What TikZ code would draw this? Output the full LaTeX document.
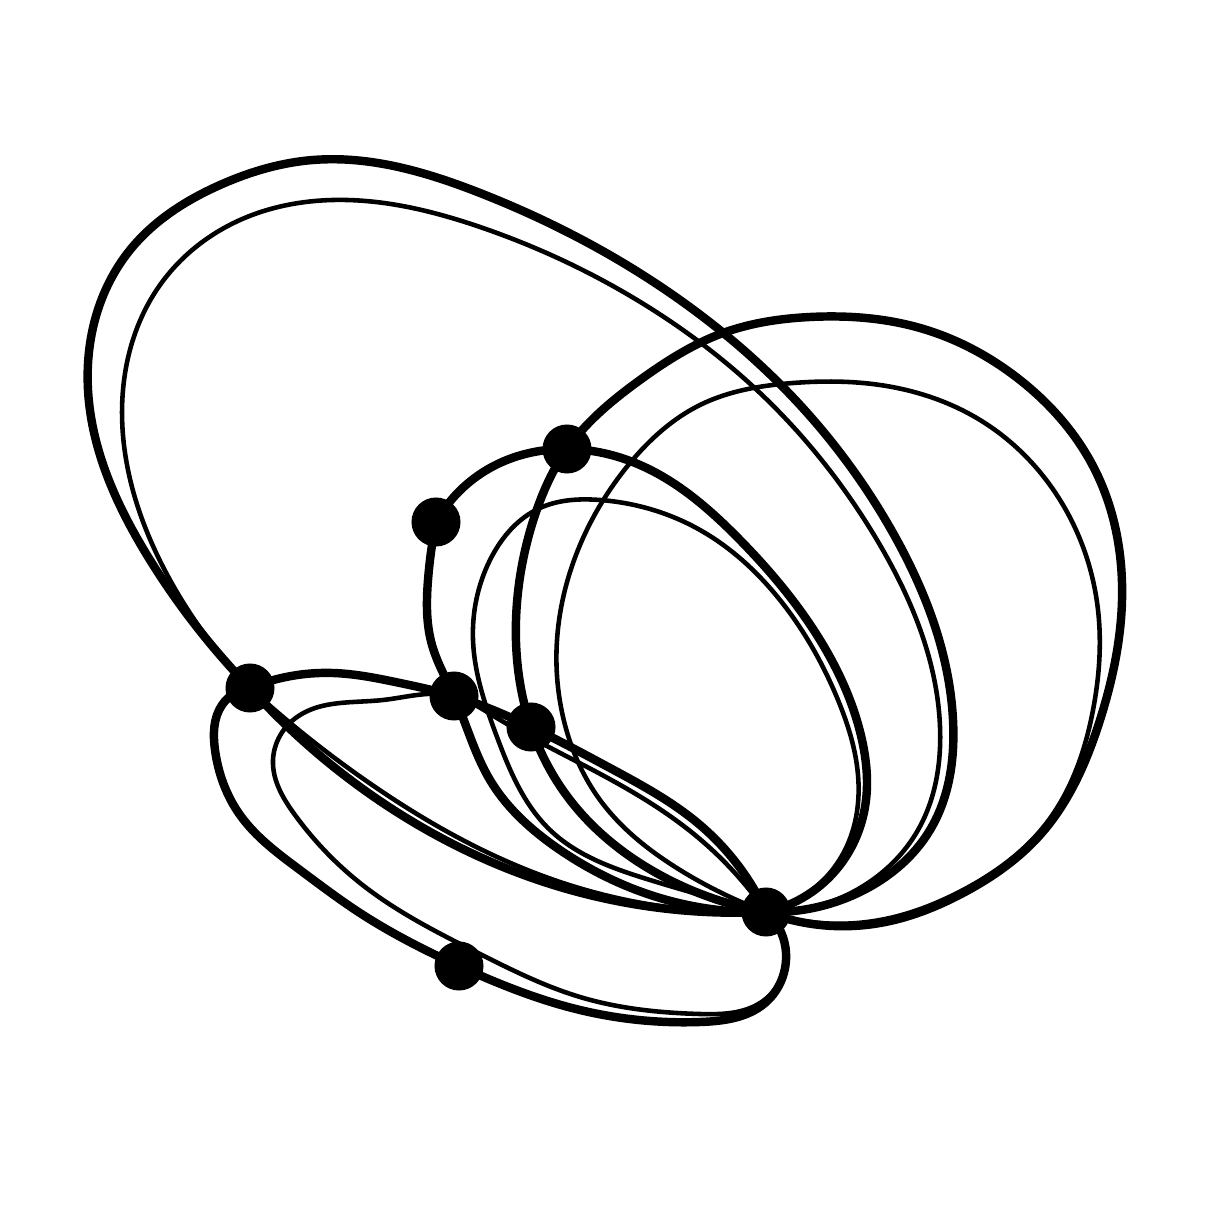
\documentclass[tikz,border=0pt]{standalone}
\usetikzlibrary{hobby}
\pgfdeclarelayer{bg}
\pgfdeclarelayer{edges}
\pgfsetlayers{bg,edges,main}
\begin{document}
\begin{tikzpicture}[x=0.01cm,y=-0.01cm,
  thickline/.style={line width=2.4pt, line join=round, line cap=round, use Hobby shortcut},
  thinline/.style={line width=1.3pt, line join=round, line cap=round, use Hobby shortcut},
  vertex/.style={circle, fill=black, inner sep=0pt, minimum size=0.49cm}]
\begin{pgfonlayer}{bg}
\fill[white] (0,0) rectangle (1210,1210);
\end{pgfonlayer}
\useasboundingbox (0,0) rectangle (1210,1210);
\node[vertex] (A) at (250,688) {};
\node[vertex] (B) at (567,449) {};
\node[vertex] (C) at (436,522) {};
\node[vertex] (D) at (454,696) {};
\node[vertex] (E) at (531,727) {};
\node[vertex] (F) at (766,912) {};
\node[vertex] (G) at (459,966) {};
\begin{pgfonlayer}{edges}
% big loop through top (thick)
\draw[thickline] (A.center) .. (150,560) .. (88,390) .. (130,250) .. (220,185) .. (313,160) .. (480,193) .. (680,300) .. (800,405) .. (893,533) .. (953,720) .. (930,830) .. (860,892) .. (F.center);
\draw[thickline] (A.center) .. (360,787) .. (560,887) .. (F.center);
% big loop through top (thin)
\draw[thinline] (A.center) .. (170,580) .. (123,390) .. (160,285) .. (240,220) .. (333,200) .. (480,227) .. (637,300) .. (760,393) .. (877,540) .. (940,727) .. (918,830) .. (860,888) .. (F.center);
\draw[thinline] (A.center) .. (365,780) .. (560,882) .. (F.center);
% right loop thick through B and E
\draw[thickline] (F.center) .. (880,923) .. (963,893) .. (1040,835) .. (1100,720) .. (1122,600) .. (1095,470) .. (1020,380) .. (920,328) .. (810,317) .. (723,333) .. (640,380) .. (B.center) .. (535,515) .. (516,620) .. (E.center) .. (570,800) .. (660,875) .. (F.center);
% right loop thin
\draw[thinline] (F.center) .. (880,920) .. (963,890) .. (1045,825) .. (1093,710) .. (1098,610) .. (1060,500) .. (980,420) .. (880,385) .. (793,383) .. (700,405) .. (630,463) .. (580,545) .. (557,640) .. (565,725) .. (600,800) .. (680,870) .. (F.center);
% inner thin ellipse
\draw[thinline] (F.center) .. (650,880) .. (550,830) .. (497,737) .. (473,640) .. (490,560) .. (540,508) .. (600,500) .. (700,530) .. (780,600) .. (838,700) .. (858,775) .. (845,850) .. (F.center);
% C - B - F thick
\draw[thickline] (C.center) .. (490,468) .. (B.center) .. (640,465) .. (740,540) .. (820,640) .. (862,740) .. (866,800) .. (840,865) .. (F.center);
% C - D - F thick
\draw[thickline] (C.center) .. (428,580) .. (432,645) .. (D.center) .. (490,780) .. (560,850) .. (660,898) .. (F.center);
% A - D - E - F thick
\draw[thickline] (A.center) .. (333,673) .. (400,683) .. (D.center) .. (E.center) .. (610,768) .. (700,825) .. (F.center);
% thin loop through D, E, F and past G
\draw[thinline] (F.center) .. (786,962) .. (760,1003) .. (700,1014) .. (580,997) .. (478,953) .. (360,883) .. (295,815) .. (273,760) .. (297,717) .. (383,700) .. (D.center) .. (492,715) .. (545,745) .. (615,782) .. (695,835) .. (F.center);
% bottom thick loop A - G - F
\draw[thickline] (A.center) .. (222,705) .. (215,750) .. (240,815) .. (300,870) .. (360,913) .. (G.center) .. (580,1010) .. (700,1022) .. (765,1003) .. (786,960) .. (780,930) .. (F.center);
\end{pgfonlayer}
\end{tikzpicture}
\end{document}
